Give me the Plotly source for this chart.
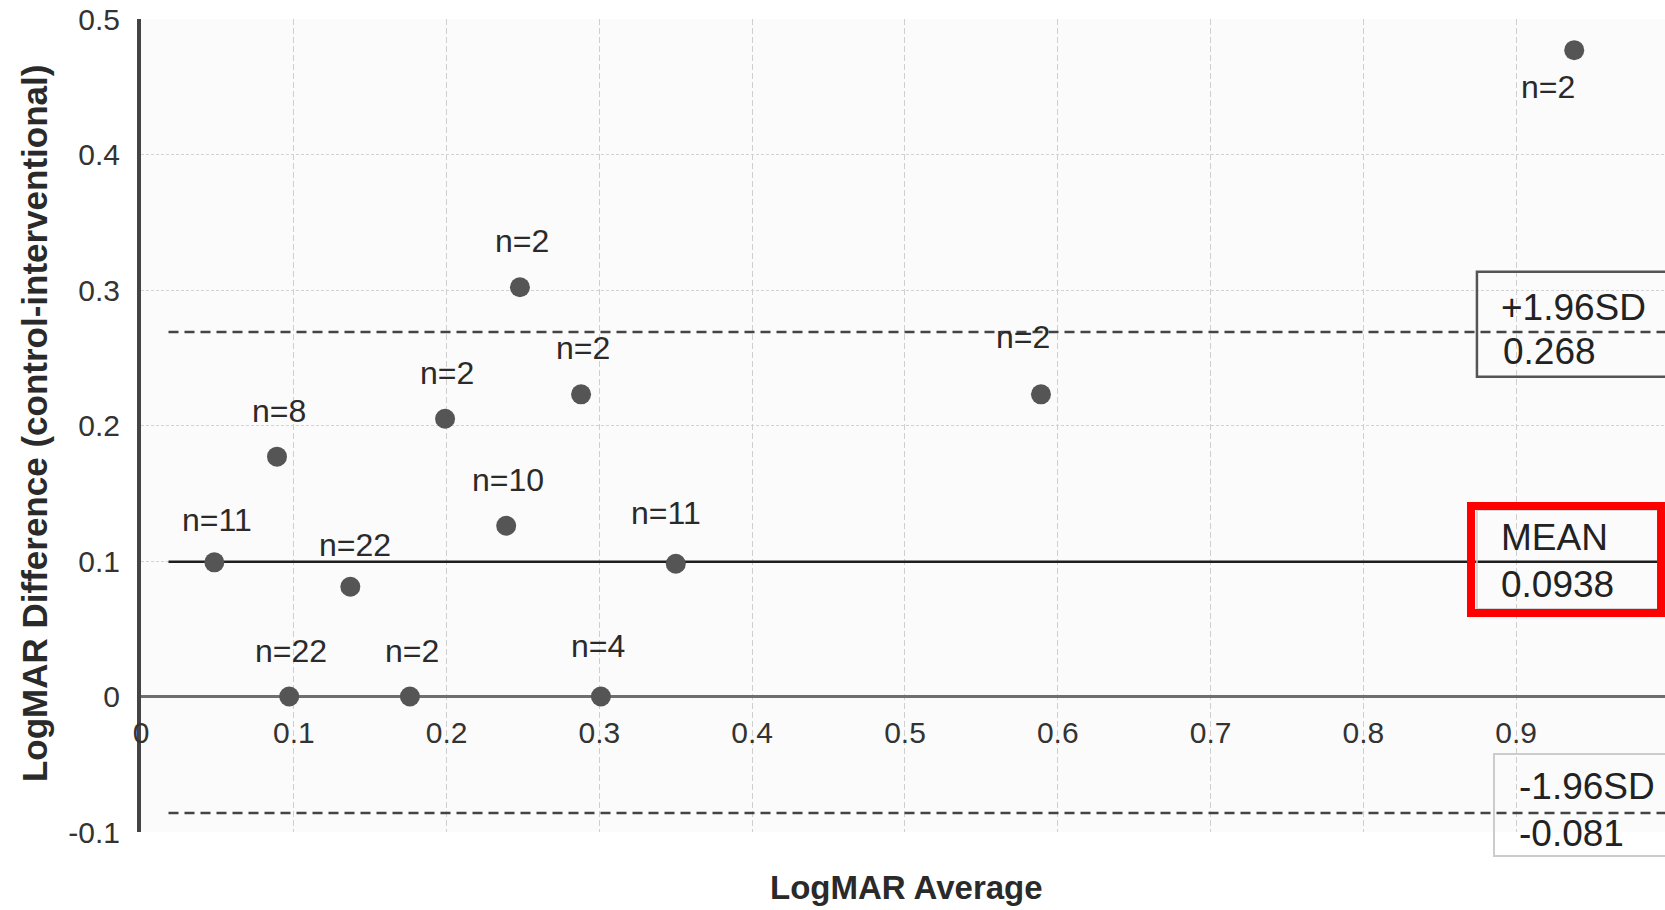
import plotly.graph_objects as go

# ---------------- data ----------------
avg = [0.048, 0.089, 0.137, 0.097, 0.176, 0.199, 0.239, 0.248, 0.288, 0.301, 0.350, 0.589, 0.938]
diff = [0.099, 0.177, 0.081, 0.0, 0.0, 0.205, 0.126, 0.302, 0.223, 0.0, 0.098, 0.223, 0.477]
n_eyes = [11, 8, 22, 22, 2, 2, 10, 2, 2, 4, 11, 2, 2]

x_tickvals = [0, 0.1, 0.2, 0.3, 0.4, 0.5, 0.6, 0.7, 0.8, 0.9]
x_ticktext = ["0", "0.1", "0.2", "0.3", "0.4", "0.5", "0.6", "0.7", "0.8", "0.9"]
y_tickvals = [-0.1, 0, 0.1, 0.2, 0.3, 0.4, 0.5]
y_ticktext = ["-0.1", "0", "0.1", "0.2", "0.3", "0.4", "0.5"]

# reference lines (levels as drawn in the picture) and their printed values
mean_level, upper_level, lower_level = 0.0995, 0.269, -0.086
mean_text, upper_text, lower_text = "0.0938", "0.268", "-0.081"
line_start = 0.018

# ---------------- styling ----------------
FONT = "Liberation Sans, Arial, Helvetica, sans-serif"
X_RANGE = [0, 0.9974]
Y_RANGE = [-0.1, 0.5]


def yfrac(v):
    return (v - Y_RANGE[0]) / (Y_RANGE[1] - Y_RANGE[0])


def xfrac(v):
    return (v - X_RANGE[0]) / (X_RANGE[1] - X_RANGE[0])


label_offsets = {0: (3, 42), 2: (5, 42), 9: (-3, 51), 10: (-10, 51), 11: (-18, 57), 12: (-26, -37)}
default_offset = (2, 46)

fig = go.Figure()

fig.add_trace(go.Scatter(x=[line_start, 1.05], y=[mean_level, mean_level], mode="lines",
                         line=dict(color="#1e1e1e", width=2.5), hoverinfo="skip", showlegend=False))
fig.add_trace(go.Scatter(x=[line_start, 1.05], y=[upper_level, upper_level], mode="lines",
                         line=dict(color="#444", width=2.5, dash="10px,6px"), hoverinfo="skip", showlegend=False))
fig.add_trace(go.Scatter(x=[line_start, 1.05], y=[lower_level, lower_level], mode="lines",
                         line=dict(color="#444", width=2.5, dash="10px,6px"), hoverinfo="skip", showlegend=False))
fig.add_trace(go.Scatter(x=avg, y=diff, mode="markers",
                         marker=dict(size=20, color="#555555", line=dict(width=0)),
                         showlegend=False))

annotations = []
for i, (xv, yv, n) in enumerate(zip(avg, diff, n_eyes)):
    dx, dy = label_offsets.get(i, default_offset)
    annotations.append(dict(x=xv, y=yv, xref="x", yref="y", text=f"n={n}", showarrow=False,
                            xshift=dx, yshift=dy, xanchor="center", yanchor="middle",
                            font=dict(family=FONT, size=32, color="#2a2a2a")))

# box labels (placed in axis-domain fractions so they are drawn even outside the range)
box_font = dict(family=FONT, size=37, color="#222")
for txt, xv, yv in [("+1.96SD", 0.889, 0.287), (upper_text, 0.890, 0.2545),
                    ("MEAN", 0.889, 0.1173), (mean_text, 0.889, 0.0826),
                    ("-1.96SD", 0.9006, -0.0664), (lower_text, 0.9006, -0.1008)]:
    annotations.append(dict(x=xfrac(xv), y=yfrac(yv), xref="x domain", yref="y domain", text=txt,
                            showarrow=False, xanchor="left", yanchor="middle", font=box_font))

# axis titles
annotations.append(dict(x=0.502, y=-0.0677, xref="paper", yref="paper", text="<b>LogMAR Average</b>",
                        showarrow=False, xanchor="center", yanchor="middle",
                        font=dict(family=FONT, size=33, color="#2a2a2a")))
annotations.append(dict(x=-0.0702, y=0.503, xref="paper", yref="paper",
                        text="<b>LogMAR Difference (control-interventional)</b>", textangle=-90,
                        showarrow=False, xanchor="center", yanchor="middle",
                        font=dict(family=FONT, size=35, color="#2a2a2a")))

shapes = [
    # +1.96SD box
    dict(type="rect", xref="x domain", yref="y domain", x0=0.8766, x1=1.05, y0=0.560, y1=0.689,
         line=dict(color="#555", width=2.5), fillcolor="rgba(0,0,0,0)"),
    # MEAN inner light box
    dict(type="rect", xref="x domain", yref="y domain", x0=0.8766, x1=1.05, y0=0.2743, y1=0.396,
         line=dict(color="#c8c8c8", width=1.5), fillcolor="rgba(0,0,0,0)"),
    # MEAN red highlight
    dict(type="rect", xref="x domain", yref="y domain", x0=0.8727, x1=0.9974, y0=0.2694, y1=0.401,
         line=dict(color="#ff0000", width=8), fillcolor="rgba(0,0,0,0)"),
    # -1.96SD box
    dict(type="rect", xref="x domain", yref="y domain", x0=0.8878, x1=1.05, y0=-0.0295, y1=0.0959,
         line=dict(color="#cccccc", width=2), fillcolor="rgba(0,0,0,0)"),
]

fig.update_layout(
    width=1665, height=910,
    margin=dict(l=141, r=0, t=19, b=78),
    paper_bgcolor="white", plot_bgcolor="#fbfbfb",
    showlegend=False,
    annotations=annotations, shapes=shapes,
    xaxis=dict(range=X_RANGE, anchor="free", position=1/6,
               tickvals=x_tickvals, ticktext=x_ticktext,
               ticks="outside", ticklen=9, tickcolor="rgba(0,0,0,0)",
               tickfont=dict(family=FONT, size=30, color="#333"),
               showgrid=True, gridcolor="#cfcfcf", griddash="6px,3px", gridwidth=1,
               showline=False, zeroline=False),
    yaxis=dict(range=Y_RANGE, tickvals=y_tickvals, ticktext=y_ticktext,
               ticks="outside", ticklen=11, tickcolor="rgba(0,0,0,0)",
               tickfont=dict(family=FONT, size=30, color="#333"),
               showgrid=True, gridcolor="#d2d2d2", griddash="3px,2px", gridwidth=1,
               showline=True, linecolor="#444", linewidth=4,
               zeroline=True, zerolinecolor="#6f6f6f", zerolinewidth=2.5),
)

fig.write_html("out.html")
